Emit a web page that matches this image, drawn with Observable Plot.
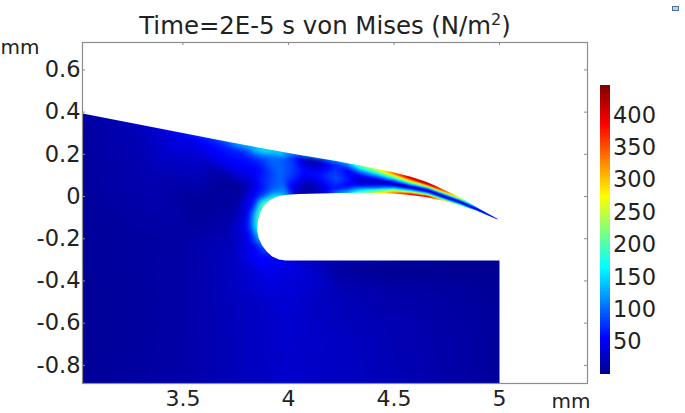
<!DOCTYPE html>
<html>
<head>
<meta charset="utf-8">
<script src="https://cdn.jsdelivr.net/npm/d3@7"></script>
<script src="https://cdn.jsdelivr.net/npm/@observablehq/plot@0.6"></script>
<style>
html,body{margin:0;padding:0;background:#fff}
#page{position:relative;width:685px;height:413px;overflow:hidden}
#page svg{position:absolute;left:0;top:0;max-width:none}
#page svg image{filter:blur(.7px)}
#badge{position:absolute;left:672px;top:6px;width:5px;height:3px;border:1px solid #4a6f9c;background:#bcd4ea}
</style>
</head>
<body>
<div id="page"><div id="badge"></div></div>
<script>
const titleText = "Time=2E-5 s von Mises (N/m²)";
const unitLabel = "mm";
const xTicks = [3.5, 4, 4.5, 5];
const yTicks = [-0.8, -0.6, -0.4, -0.2, 0, 0.2, 0.4, 0.6];
const barTicks = [50, 100, 150, 200, 250, 300, 350, 400];
const xDomain = [3.024, 5.417];
const yDomain = [-0.886, 0.73];
const barDomain = [0, 446];

// jet colour ramp
const jetStops = [0, 55, 165, 275, 385, 446];
const jetColors = ["#00008c", "#0000ff", "#00ffff", "#ffff00", "#ff0000", "#7f0000"];

// outline of the part seen from outside: above the top surface, round the slot, right of x=5
const outline = [
  [3.024, 0.73], [3.024, 0.393], [3.725, 0.257], [4.041, 0.199], [4.22, 0.17], [4.341, 0.147],
  [4.42, 0.131], [4.497, 0.115], [4.576, 0.095], [4.62, 0.081], [4.655, 0.069], [4.7, 0.05], [4.734, 0.033],
  [4.775, 0.015], [4.815, -0.005], [4.89, -0.05], [4.99, -0.105], [4.99, -0.109], [4.89, -0.066], [4.815, -0.043], [4.734, -0.02],
  [4.655, -0.003], [4.576, 0.007], [4.497, 0.014], [4.341, 0.018], [4.199, 0.016], [4.05, 0.012],
  [3.994, 0.009], [3.955, 0.002], [3.929, -0.008], [3.905, -0.022], [3.882, -0.046], [3.865, -0.08],
  [3.855, -0.115], [3.852, -0.161], [3.858, -0.195], [3.875, -0.232], [3.898, -0.262], [3.923, -0.284],
  [3.955, -0.298], [3.986, -0.303], [5, -0.303], [5, -0.886], [5.417, -0.886], [5.417, 0.73]
];

// stress samples [x mm, y mm, N/m²]
const fieldLeft = [
  [3.02,0.395,10],[3.3,0.34,22],[3.5,0.295,45],[3.64,0.27,65],[3.72,0.262,120],[3.8,0.245,180],[3.9,0.225,190],[3.97,0.21,150],[4.02,0.2,80],
  [3.72,0.235,70],[3.8,0.225,85],[3.9,0.19,98],[3.97,0.17,92],[4.02,0.16,80],
  [3.02,0.2,9],[3.02,0,8],[3.02,-0.4,6],[3.02,-0.89,6],[3.33,0.11,18],[3.57,0.19,32],
  [3.725,0.16,52],[3.83,0.115,50],[3.57,-0.04,6],[3.76,0.02,3],[3.7,0.085,8],[3.8,0.05,18],
  [3.86,0.13,55],[3.8,0.19,65],[3.25,-0.2,9],[3.5,-0.2,12],[3.25,-0.6,8],
  [3.5,-0.5,13],[3.5,-0.89,14],[3.75,-0.89,22],[3.7,-0.15,15],[3.75,-0.05,12],
  [3.7,-0.45,22],[3.75,-0.3,28]
];
const fieldNotch = [
  [3.94,-0.006,190],[3.884,-0.04,225],[3.86,-0.095,215],[3.852,-0.147,180],[3.86,-0.2,130],[3.89,-0.255,80],[3.945,-0.294,55],
  [3.933,0.013,130],[3.87,-0.026,160],[3.841,-0.088,140],[3.832,-0.147,115],[3.841,-0.207,85],[3.876,-0.269,65],[3.938,-0.313,50],
  [3.923,0.041,90],[3.85,-0.005,65],[3.813,-0.078,55],[3.802,-0.147,50],[3.813,-0.217,45],[3.855,-0.29,56],[3.928,-0.341,46],
  [3.99,0.013,120],[4.02,0.022,35],[3.9,-0.4,40]
];
const fieldLower = [
  [3.95,-0.5,34],[4,-0.6,32],[4,-0.89,30],[4.07,-0.305,32],[4.07,-0.36,36],[4.25,-0.305,20],
  [4.25,-0.34,8],[4.25,-0.45,20],[4.25,-0.7,26],[4.25,-0.89,26],[4.5,-0.305,12],[4.5,-0.34,2],
  [4.5,-0.45,13],[4.5,-0.6,18],[4.5,-0.89,20],[4.75,-0.305,8],[4.75,-0.34,2],[4.75,-0.45,10],
  [4.75,-0.7,14],[4.75,-0.89,13],[5,-0.305,5],[5,-0.35,3],[5,-0.6,8],[5,-0.89,7]
];
const fieldNeck = [
  [3.96,0.11,100],[3.97,0.085,95],[4.05,0.195,40],[4.115,0.185,3],[4.066,0.114,62],[4.095,0.038,4],
  [4.05,0.015,15],[4.15,0.17,22],[4.15,0.1,65],[4.15,0.02,22]
];
// the beam: stations along x, each with nine readings from the top surface to the bottom surface
const beamLayers = 9;
const beamStations = [4.22, 4.28, 4.34, 4.42, 4.5, 4.58, 4.66, 4.74, 4.815, 4.89, 4.99];
const beamY = [
  [0.172,0.165,0.15,0.125,0.09,0.06,0.04,0.028,0.012],
  [0.162,0.155,0.14,0.12,0.085,0.055,0.04,0.028,0.012],
  [0.152,0.14,0.125,0.105,0.076,0.05,0.035,0.026,0.013],
  [0.136,0.124,0.11,0.095,0.07,0.045,0.032,0.024,0.011],
  [0.12,0.107,0.095,0.08,0.06,0.04,0.03,0.021,0.009],
  [0.099,0.087,0.075,0.06,0.045,0.028,0.02,0.012,0.001],
  [0.072,0.06,0.05,0.04,0.028,0.016,0.008,0.002,-0.009],
  [0.036,0.025,0.018,0.01,-0.001,-0.011,-0.016,-0.02,-0.028],
  [-0.003,-0.008,-0.014,-0.02,-0.027,-0.034,-0.038,-0.041,-0.046],
  [-0.048,-0.05,-0.053,-0.056,-0.059,-0.062,-0.064,-0.066,-0.069],
  [-0.104,-0.1045,-0.105,-0.106,-0.107,-0.107,-0.108,-0.109,-0.11]
];
const beamV = [
  [120,95,70,75,90,75,60,80,110],
  [165,120,85,55,65,55,75,110,150],
  [215,190,130,70,20,70,130,170,195],
  [280,240,170,100,18,90,170,230,290],
  [340,330,240,130,15,130,230,320,345],
  [380,410,300,160,12,150,260,390,390],
  [390,420,300,140,12,130,260,390,370],
  [330,350,260,130,20,120,220,290,280],
  [265,270,190,90,30,90,170,230,225],
  [130,120,90,50,40,50,80,105,110],
  [60,60,60,60,60,60,60,60,60]
];
const beamRows = beamStations.flatMap((x, s) => beamY[s].map((y, k) => [x, y, beamV[s][k]]));
const field = [...fieldLeft, ...fieldNotch, ...fieldLower, ...fieldNeck, ...beamRows.slice(0, beamLayers * 2)];

// blends the beam readings along its curved layers rather than across them
function alongLayers(index, width, height, X, Y, V) {
  const out = new Float64Array(width * height).fill(NaN);
  const n = beamLayers;
  const count = Math.floor(index.length / n);
  const at = (s, k) => index[s * n + k];
  for (let s = 0; s < count - 1; ++s) {
    const xa = X[at(s, 0)], xb = X[at(s + 1, 0)];
    for (let px = Math.ceil(xa - 0.5); px < xb - 0.5 && px < width; ++px) {
      const t = (px + 0.5 - xa) / (xb - xa);
      const ys = d3.range(n).map(k => Y[at(s, k)] * (1 - t) + Y[at(s + 1, k)] * t);
      const vs = d3.range(n).map(k => V[at(s, k)] * (1 - t) + V[at(s + 1, k)] * t);
      const top = Math.floor(ys[0] - 3), bottom = Math.ceil(ys[n - 1] + 3);
      for (let py = Math.max(0, top); py <= bottom && py < height; ++py) {
        const c = py + 0.5;
        let v;
        if (c <= ys[0]) v = vs[0];
        else if (c >= ys[n - 1]) v = vs[n - 1];
        else {
          let k = 0;
          while (k < n - 2 && c > ys[k + 1]) ++k;
          const u = (c - ys[k]) / Math.max(1e-6, ys[k + 1] - ys[k]);
          v = vs[k] * (1 - u) + vs[k + 1] * u;
        }
        out[py * width + px] = v;
      }
    }
  }
  return out;
}

const font = "DejaVu Sans";
const grey = "#8c8c8c";
const numberText = d => String(d);
const colorScale = {type: "linear", domain: jetStops, range: jetColors, clamp: true};

const main = Plot.plot({
  width: 685, height: 413,
  marginLeft: 82, marginRight: 98, marginTop: 42, marginBottom: 30,
  style: {background: "transparent", fontFamily: font, color: "#222"},
  x: {domain: xDomain}, y: {domain: yDomain}, color: colorScale,
  marks: [
    Plot.raster(field, {x: d => d[0], y: d => d[1], fill: d => d[2], interpolate: "barycentric", pixelSize: 1, blur: 2}),
    Plot.raster(beamRows, {x: d => d[0], y: d => d[1], fill: d => d[2], interpolate: alongLayers, pixelSize: 1}),
    Plot.line(outline, {x: d => d[0], y: d => d[1], fill: "white", stroke: "none"}),
    Plot.frame({stroke: grey, strokeWidth: 1.2}),
    Plot.axisX({ticks: xTicks, tickFormat: numberText, anchor: "bottom", tickSize: 0, tickPadding: 7, fontSize: 22, label: null}),
    Plot.axisY({ticks: yTicks, tickFormat: numberText, anchor: "left", tickSize: 0, tickPadding: 2, fontSize: 22.5, label: null}),
    Plot.tickX(xTicks, {x: d => d, stroke: grey, insetBottom: 338}),
    Plot.tickY(yTicks, {y: d => d, stroke: grey, insetRight: 502}),
    Plot.tickY(yTicks, {y: d => d, stroke: grey, insetLeft: 502}),
    Plot.text([titleText], {text: d => d, frameAnchor: "top", dx: -10, dy: -16, fontSize: 24.4, fill: "#222", lineAnchor: "middle"}),
    Plot.text([unitLabel], {text: d => d, frameAnchor: "top-left", dx: -82, dy: 5, fontSize: 20, textAnchor: "start", lineAnchor: "middle", fill: "#222"}),
    Plot.text([unitLabel], {text: d => d, frameAnchor: "bottom-right", dx: 3, dy: 18, fontSize: 20, textAnchor: "end", lineAnchor: "middle", fill: "#222"})
  ]
});

const barStep = 2;
const barValues = d3.range(barDomain[0], barDomain[1], barStep);
const bar = Plot.plot({
  width: 685, height: 413,
  marginLeft: 600, marginRight: 75.5, marginTop: 85, marginBottom: 39,
  style: {background: "transparent", fontFamily: font, color: "#222"},
  x: {domain: [0, 1], axis: null}, y: {domain: barDomain}, color: colorScale,
  marks: [
    Plot.rect(barValues, {x1: 0, x2: 1, y1: d => d, y2: d => d + barStep, fill: d => d + barStep / 2, shapeRendering: "crispEdges"}),
    Plot.axisY({ticks: barTicks, tickFormat: numberText, anchor: "right", tickSize: 0, tickPadding: 3, fontSize: 22.5, label: null})
  ]
});

// raise the exponent of the title as a real superscript
main.querySelectorAll("text").forEach(node => {
  if (!node.textContent.includes("²")) return;
  const holder = node.querySelector("tspan") || node;
  holder.textContent = "Time=2E-5 s von Mises (N/m";
  const sup = document.createElementNS("http://www.w3.org/2000/svg", "tspan");
  sup.setAttribute("dy", "-9"); sup.setAttribute("font-size", "16"); sup.textContent = "2";
  const end = document.createElementNS("http://www.w3.org/2000/svg", "tspan");
  end.setAttribute("dy", "9"); end.textContent = ")";
  holder.append(sup, end);
});

const page = document.getElementById("page");
page.prepend(bar);
page.prepend(main);
</script>
</body>
</html>
